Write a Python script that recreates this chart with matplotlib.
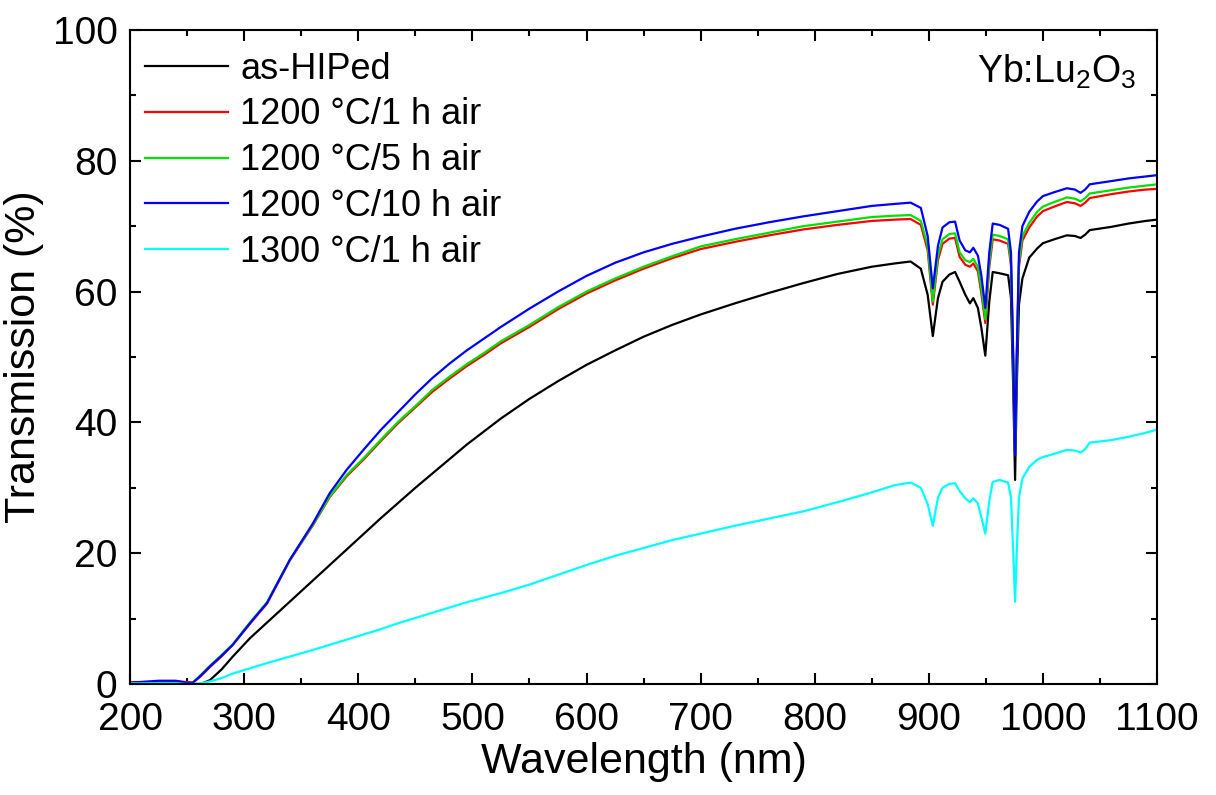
import matplotlib
matplotlib.use("Agg")
import matplotlib.pyplot as plt
from matplotlib.ticker import MultipleLocator

plt.rcParams['font.family'] = ['Liberation Sans', 'DejaVu Sans']
plt.rcParams['mathtext.fontset'] = 'custom'
plt.rcParams['mathtext.rm'] = 'Liberation Sans'

# wavelength grid (nm), denser across the Yb3+ absorption bands
wavelength = [200, 225, 240, 250, 255, 262, 270, 280, 290, 305, 320, 340, 360, 375,
              390, 405, 420, 435, 450, 465, 480, 495, 510, 525, 550, 575, 600, 625,
              650, 675, 700, 730, 760, 790, 820, 850, 870, 884, 893, 899, 903.5, 908,
              912, 918, 923, 927, 932, 936, 939, 943, 946, 949.5, 953, 956, 962, 969.5,
              972, 974, 975.6, 977, 979, 982, 988, 995, 1000, 1010, 1021, 1028, 1033,
              1037, 1041, 1060, 1075, 1090, 1100]

t_hiped = [0.1, 0.1, 0.1, 0.0, 0.0, 0.0, 0.6, 2.2, 4.2, 7.0, 9.4, 12.6, 15.8, 18.2,
           20.6, 23.0, 25.4, 27.7, 30.0, 32.2, 34.4, 36.6, 38.6, 40.6, 43.6, 46.3, 48.8, 51.0,
           53.1, 54.9, 56.5, 58.2, 59.8, 61.3, 62.7, 63.8, 64.3, 64.6, 63.5, 59.5, 53.2, 59.0,
           61.5, 62.6, 63.0, 61.5, 59.5, 58.2, 59.0, 57.5, 54.5, 50.2, 58.5, 63.0, 62.8, 62.5,
           59.0, 45.0, 31.2, 45.0, 58.0, 62.0, 65.2, 66.6, 67.4, 68.0, 68.6, 68.5, 68.2,
           68.7, 69.4, 69.9, 70.4, 70.8, 71.0]

t_1200_1h = [0.3, 0.3, 0.4, 0.3, 0.2, 1.2, 2.6, 4.2, 6.0, 9.2, 12.3, 18.9, 24.2, 28.6,
             31.8, 34.4, 37.2, 39.9, 42.3, 44.7, 46.7, 48.6, 50.3, 52.1, 54.6, 57.3, 59.7, 61.7,
             63.5, 65.1, 66.5, 67.6, 68.6, 69.5, 70.2, 70.8, 71.0, 71.1, 70.2, 66.3, 58.0, 64.8,
             67.3, 68.1, 68.2, 65.3, 64.1, 63.8, 64.3, 63.1, 59.8, 55.2, 63.8, 68.0, 67.8, 67.3,
             64.0, 49.0, 36.0, 49.0, 63.8, 67.8, 69.8, 71.5, 72.3, 73.0, 73.7, 73.5, 73.1,
             73.6, 74.3, 74.9, 75.3, 75.6, 75.7]

t_1200_5h = [0.1, 0.2, 0.2, 0.1, 0.2, 1.4, 2.8, 4.4, 6.1, 9.4, 12.5, 19.0, 24.3, 28.7,
             32.0, 34.6, 37.4, 40.1, 42.5, 45.0, 47.0, 48.9, 50.6, 52.4, 54.9, 57.6, 60.0, 62.0,
             63.8, 65.4, 66.9, 68.0, 69.0, 70.0, 70.7, 71.4, 71.6, 71.7, 70.8, 67.0, 58.5, 65.5,
             68.0, 68.8, 68.9, 66.0, 64.8, 64.5, 65.0, 63.8, 60.5, 55.8, 64.5, 68.7, 68.5, 68.0,
             64.5, 49.0, 35.5, 49.0, 64.5, 68.5, 70.5, 72.2, 73.0, 73.7, 74.4, 74.2, 73.8,
             74.3, 75.0, 75.5, 75.9, 76.2, 76.4]

t_1200_10h = [0.2, 0.5, 0.5, 0.2, 0.2, 1.3, 2.7, 4.3, 6.0, 9.3, 12.4, 19.0, 24.5, 29.2,
              32.8, 35.9, 38.9, 41.6, 44.3, 46.8, 49.0, 51.0, 52.8, 54.6, 57.4, 60.0, 62.4, 64.4,
              66.0, 67.3, 68.4, 69.6, 70.6, 71.5, 72.3, 73.1, 73.4, 73.6, 72.8, 68.5, 60.5, 67.0,
              69.8, 70.6, 70.7, 67.8, 66.3, 66.0, 66.7, 65.5, 62.5, 57.5, 66.0, 70.4, 70.2, 69.6,
              66.0, 50.0, 35.0, 50.0, 66.0, 70.0, 72.2, 73.8, 74.6, 75.2, 75.8, 75.6, 75.1,
              75.6, 76.4, 76.9, 77.3, 77.6, 77.8]

t_1300_1h = [0.1, 0.1, 0.1, 0.0, 0.0, 0.1, 0.4, 0.9, 1.6, 2.4, 3.2, 4.2, 5.2, 6.0,
             6.8, 7.6, 8.4, 9.3, 10.1, 10.9, 11.7, 12.5, 13.2, 13.9, 15.2, 16.7, 18.2, 19.6,
             20.8, 22.0, 23.0, 24.2, 25.3, 26.4, 27.8, 29.3, 30.4, 30.8, 30.0, 27.5, 24.2, 28.5,
             30.0, 30.6, 30.7, 29.5, 28.4, 27.8, 28.4, 27.6, 25.5, 23.0, 28.0, 30.9, 31.2, 30.8,
             28.5, 20.0, 12.6, 20.0, 28.5, 31.4, 33.2, 34.3, 34.7, 35.2, 35.8, 35.7, 35.4,
             35.9, 36.9, 37.3, 37.8, 38.4, 38.9]

labels = ["as-HIPed", "1200 °C/1 h air", "1200 °C/5 h air",
          "1200 °C/10 h air", "1300 °C/1 h air"]
series = [t_hiped, t_1200_1h, t_1200_5h, t_1200_10h, t_1300_1h]
colors = ["black", "#ff0000", "#00e000", "#0000ff", "#00ffff"]

fig = plt.figure(figsize=(12.16, 7.95), dpi=100)
ax = fig.add_axes([0.107, 0.1396, 0.8445, 0.8227])

for y, lab, c in zip(series, labels, colors):
    ax.plot(wavelength, y, color=c, lw=1.6, label=lab)

ax.set_xlim(200, 1100)
ax.set_ylim(0, 100)
ax.xaxis.set_major_locator(MultipleLocator(100))
ax.xaxis.set_minor_locator(MultipleLocator(50))
ax.yaxis.set_major_locator(MultipleLocator(20))
ax.yaxis.set_minor_locator(MultipleLocator(10))
ax.tick_params(which='both', direction='in', top=True, right=True, width=1.5,
               labelsize=28)
ax.tick_params(axis='x', pad=13)
ax.tick_params(axis='y', pad=9)
ax.tick_params(which='major', length=8)
ax.tick_params(which='minor', length=4.5)
for s in ax.spines.values():
    s.set_linewidth(1.5)

ax.set_xlabel("Wavelength (nm)", fontsize=31, labelpad=3)
ax.set_ylabel("Transmission (%)", fontsize=31, labelpad=6)

ax.text(0.98, 0.965, r"Yb:Lu$_2$O$_3$", transform=ax.transAxes,
        ha='right', va='top', fontsize=27)

ax.legend(loc='upper left', frameon=False, fontsize=26, handlelength=2.3,
          handletextpad=0.35, labelspacing=0.3, borderaxespad=0.2,
          bbox_to_anchor=(-0.007, 1.0))

fig.savefig("out.png", dpi=100)
